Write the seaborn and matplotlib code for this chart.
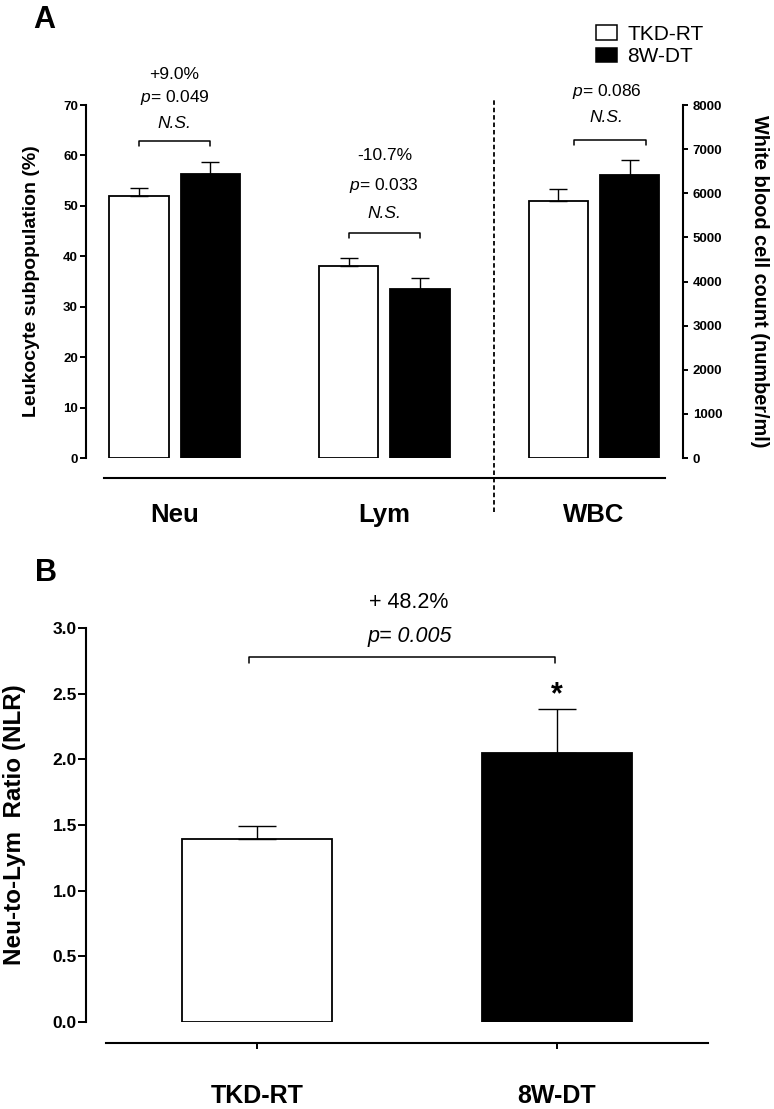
import matplotlib
matplotlib.use("Agg")
import matplotlib.pyplot as plt
from matplotlib.patches import Patch
from matplotlib.container import BarContainer
import pandas as pd
import seaborn as sns

cells = ["Neu", "Lym", "WBC"]
groups = ["TKD-RT", "8W-DT"]

# leukocyte subpopulation (%) mean / SEM, Neu and Lym
pct_tkd = [52.0, 38.1]
pct_tkd_sem = [1.6, 1.6]
pct_8w = [56.3, 33.5]
pct_8w_sem = [2.4, 2.2]

# white blood cell count (number/ml)
wbc_mean = [5820, 6410]
wbc_sem = [280, 340]

# neutrophil-to-lymphocyte ratio
nlr_mean = [1.39, 2.05]
nlr_sem = [0.10, 0.33]

change_top = ["+9.0%", "-10.7%", ""]
p_top = ["0.049", "0.033", "0.086"]
change_nlr = "+ 48.2%"
p_nlr = "0.005"

sns.set_style("ticks", {"axes.edgecolor": "black", "xtick.color": "black",
                        "ytick.color": "black", "text.color": "black",
                        "axes.labelcolor": "black"})
plt.rcParams['font.family'] = ['Liberation Sans', 'DejaVu Sans']
plt.rcParams['mathtext.fontset'] = 'custom'
plt.rcParams['mathtext.rm'] = 'Liberation Sans'
plt.rcParams['mathtext.it'] = 'Liberation Sans:italic'
plt.rcParams['axes.linewidth'] = 1.5

pal = {"TKD-RT": "white", "8W-DT": "black"}

df_pct = pd.DataFrame({"cell": cells[:2] * 2,
                       "group": [groups[0]] * 2 + [groups[1]] * 2,
                       "value": pct_tkd + pct_8w,
                       "sem": pct_tkd_sem + pct_8w_sem})
df_wbc = pd.DataFrame({"cell": ["WBC"] * 2, "group": groups,
                       "value": wbc_mean, "sem": wbc_sem})
df_nlr = pd.DataFrame({"group": groups, "value": nlr_mean, "sem": nlr_sem})


def add_sem(ax, df, xcol, order, capsize):
    # upper SEM whisker on every bar, placed from the bar itself
    bars = [c for c in ax.containers if isinstance(c, BarContainer)]
    for ci, cont in enumerate(bars):
        for bar in cont:
            xc = bar.get_x() + bar.get_width() / 2
            cat = order[int(round(xc))]
            row = df[df[xcol] == cat]
            if xcol != "group":
                row = row[row["group"] == groups[ci]]
            if len(row) == 0:
                continue
            ax.errorbar(xc, bar.get_height(), yerr=[[0], [row["sem"].iloc[0]]],
                        fmt='none', ecolor='black', elinewidth=1.0,
                        capsize=capsize, capthick=1.0, zorder=1)


def bracket(ax, x0, x1, y, leg):
    ax.plot([x0, x0, x1, x1], [y - leg, y, y, y - leg], color='black',
            lw=1.1, clip_on=False)


fig = plt.figure(figsize=(7.74, 11.09), dpi=100)

# ---------- panel A ----------
ax = fig.add_axes([0.1111, 0.5870, 0.7713, 0.3183])
sns.barplot(data=df_pct, x="cell", y="value", hue="group", order=cells,
            hue_order=groups, palette=pal, edgecolor='black', linewidth=1.3,
            width=0.68, gap=0.17, errorbar=None, legend=False, ax=ax)
ax2 = ax.twinx()
sns.barplot(data=df_wbc, x="cell", y="value", hue="group", order=cells,
            hue_order=groups, palette=pal, edgecolor='black', linewidth=1.3,
            width=0.68, gap=0.17, errorbar=None, legend=False, ax=ax2)
add_sem(ax, df_pct, "cell", cells, 6.5)
add_sem(ax2, df_wbc, "cell", cells, 6.5)

for s in ["top", "right"]:
    ax.spines[s].set_visible(False)
for s in ["top", "left", "bottom"]:
    ax2.spines[s].set_visible(False)
ax.spines['bottom'].set_position(('outward', 14.4))
ax.spines['bottom'].set_bounds(-0.336, 2.338)
ax.spines['left'].set_bounds(0, 70)
ax2.spines['right'].set_bounds(0, 8000)
ax2.spines['right'].set_linewidth(1.5)

ax.set_xlim(-0.4225, 2.424)
ax.set_ylim(0, 70)
ax2.set_ylim(0, 8000)
ax.set_xlabel("")
ax.set_ylabel("")
ax2.set_ylabel("")
ax.tick_params(axis='x', length=0, pad=18)
ax.tick_params(axis='y', length=4.3, width=1.4, pad=1.5)
ax2.tick_params(axis='y', length=3.6, width=1.4, pad=3.5)
ax.set_yticks(range(0, 71, 10), labels=[str(v) for v in range(0, 71, 10)],
              fontweight='bold', fontsize=9.5)
ax2.set_yticks(range(0, 8001, 1000), labels=[str(v) for v in range(0, 8001, 1000)],
               fontweight='bold', fontsize=9.5)
ax.set_xticks(range(3), labels=cells, fontweight='bold', fontsize=18.5)

ax.axvline(1.523, ymin=-0.153, ymax=1.017, color='black', lw=1.3,
           ls=(0, (2.5, 1.6)), clip_on=False)

# annotations (left-axis units)
ax.text(0, 76.1, change_top[0], ha='center', va='center', fontsize=12.5)
ax.text(0, 71.4, "$\\mathit{p}$= " + p_top[0], ha='center', va='center', fontsize=12.5)
ax.text(0, 66.4, "N.S.", ha='center', va='center', fontsize=12.5, fontstyle='italic')
bracket(ax, -0.169, 0.169, 62.9, 1.0)

ax.text(1, 59.9, change_top[1], ha='center', va='center', fontsize=12.5)
ax.text(1, 54.0, "$\\mathit{p}$= " + p_top[1], ha='center', va='center', fontsize=12.5)
ax.text(1, 48.4, "N.S.", ha='center', va='center', fontsize=12.5, fontstyle='italic')
bracket(ax, 0.831, 1.169, 44.6, 1.0)

ax.text(2.06, 72.6, "$\\mathit{p}$= " + p_top[2], ha='center', va='center', fontsize=12.5)
ax.text(2.06, 67.6, "N.S.", ha='center', va='center', fontsize=12.5, fontstyle='italic')
bracket(ax, 1.905, 2.248, 63.1, 1.0)

fig.text(31.5 / 774, 1 - 281 / 1109, "Leukocyte subpopulation (%)", rotation=90,
         ha='center', va='center', fontsize=14, fontweight='bold')
fig.text(759 / 774, 1 - 281 / 1109, "White blood cell count (number/ml)", rotation=270,
         ha='center', va='center', fontsize=14.3, fontweight='bold')

fig.legend(handles=[Patch(facecolor='white', edgecolor='black', lw=1.1),
                    Patch(facecolor='black', edgecolor='black', lw=1.1)],
           labels=groups, loc='upper left', bbox_to_anchor=(596 / 774, 1 - 25 / 1109),
           frameon=False, fontsize=15, handlelength=1.0, handleheight=0.7,
           handletextpad=0.5, labelspacing=0.15, borderpad=0, borderaxespad=0)

fig.text(33 / 774, 1 - 28 / 1109, "A", fontsize=22, fontweight='bold',
         ha='left', va='baseline')

# ---------- panel B ----------
bx = fig.add_axes([0.1111, 0.0784, 0.8036, 0.3553])
sns.barplot(data=df_nlr, x="group", y="value", hue="group", order=groups,
            hue_order=groups, palette=pal, edgecolor='black', linewidth=1.3,
            width=0.5, errorbar=None, legend=False, ax=bx)
add_sem(bx, df_nlr, "group", groups, 13.7)
for s in ["top", "right"]:
    bx.spines[s].set_visible(False)
bx.spines['bottom'].set_position(('outward', 15))
bx.spines['bottom'].set_bounds(-0.503, 1.503)
bx.spines['left'].set_bounds(0, 3)

bx.set_xlim(-0.57, 1.503)
bx.set_ylim(0, 3)
bx.set_xlabel("")
bx.set_ylabel("")
bx.tick_params(axis='x', length=4.3, width=1.4, pad=25.5)
bx.tick_params(axis='y', length=5.5, width=1.4, pad=1)
yt = [0.0, 0.5, 1.0, 1.5, 2.0, 2.5, 3.0]
bx.set_yticks(yt, labels=[f"{v:.1f}" for v in yt], fontweight='bold', fontsize=12.5)
bx.set_xticks(range(2), labels=groups, fontweight='bold', fontsize=18)

bx.text(0.505, 3.198, change_nlr, ha='center', va='center', fontsize=15.5)
bx.text(0.508, 2.932, "p= " + p_nlr, ha='center', va='center', fontsize=15.5,
        fontstyle='italic')
bracket(bx, -0.027, 0.993, 2.779, 0.045)
bx.text(1.0, 2.43, "*", ha='center', va='baseline', fontsize=22, fontweight='bold')

fig.text(15 / 774, 1 - 824.5 / 1109, "Neu-to-Lym  Ratio (NLR)", rotation=90,
         ha='center', va='center', fontsize=17.5, fontweight='bold')
fig.text(35 / 774, 1 - 581 / 1109, "B", fontsize=22, fontweight='bold',
         ha='left', va='baseline')

fig.savefig("out.png", dpi=100)
